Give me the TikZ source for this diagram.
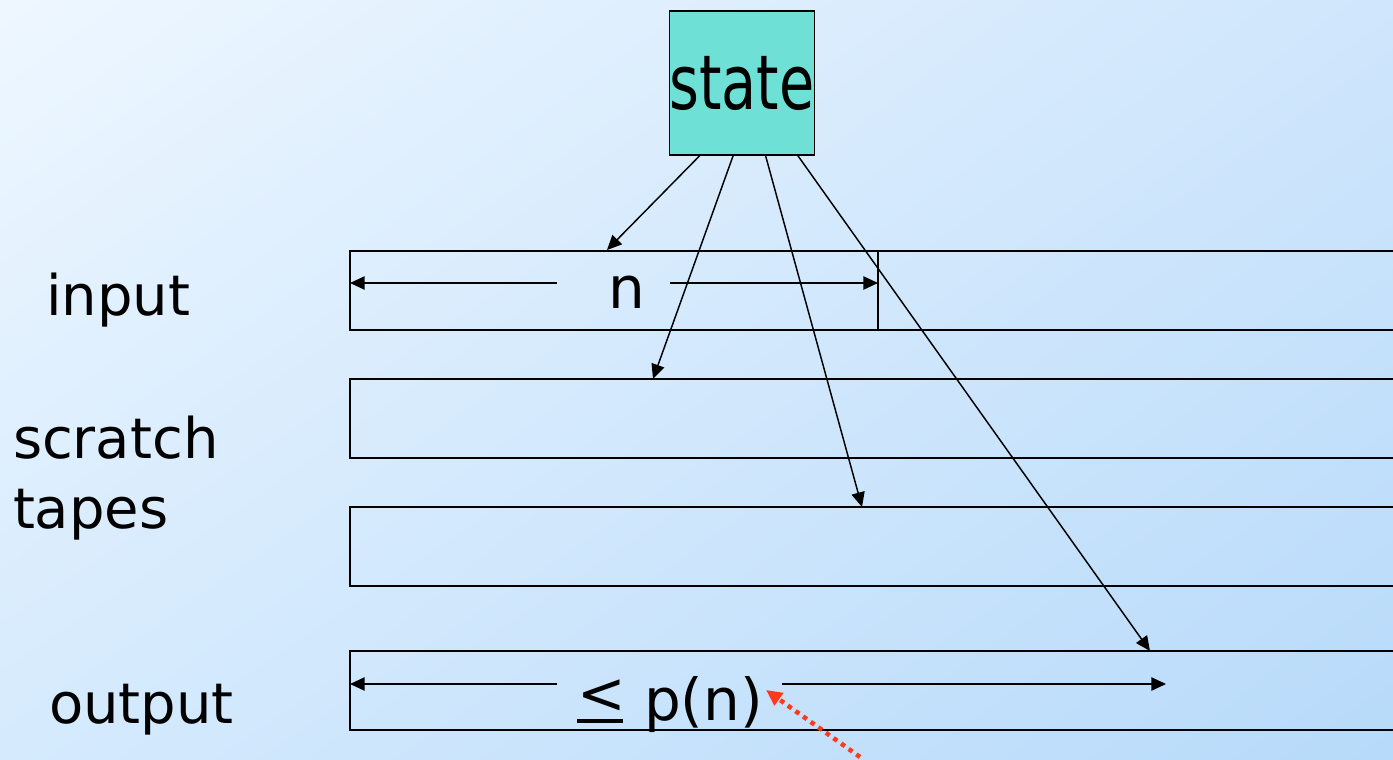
\documentclass[tikz,border=0pt]{standalone}
\usepackage{fontspec}
\setmainfont{DejaVu Sans}
\usetikzlibrary{arrows.meta,calc,shadings}
\definecolor{bgTL}{HTML}{EEF7FF}
\definecolor{bgTR}{HTML}{CFE6FC}
\definecolor{bgBL}{HTML}{D5EAFD}
\definecolor{bgBR}{HTML}{B7DAFA}
\definecolor{statefill}{HTML}{6FE0D5}
\definecolor{redarrow}{HTML}{FF3A1C}
\begin{document}
\begin{tikzpicture}[x=0.75pt,y=-0.75pt,
  every node/.style={inner sep=0pt, outer sep=0pt},
  lbl/.style={anchor=base west, font=\fontsize{42}{50}\selectfont},
  dimlbl/.style={anchor=base west, font=\fontsize{43.5}{50}\selectfont},
  tape/.style={draw, line width=1.3pt, minimum width=825pt, minimum height=59.25pt, anchor=north west},
  conn/.style={line width=1.1pt, -{Triangle[length=11pt,width=10pt]}},
  statebox/.style={draw, line width=1.3pt, fill=statefill, minimum width=108pt, minimum height=108pt, font=\fontsize{43}{50}\selectfont}
]
\useasboundingbox (0,0) rectangle (1393,760);
\clip (0,0) rectangle (1393,760);
\shade[upper left=bgTL, upper right=bgTR, lower left=bgBL, lower right=bgBR] (0,0) rectangle (1393,760);

% tapes
\node[tape] (tin) at (350,251) {};
\node[tape] (ts1) at (350,379) {};
\node[tape] (ts2) at (350,507) {};
\node[tape] (tout) at (350,651) {};
\coordinate (divtop) at (878,251);
\coordinate (divbot) at (878,330);
\draw[line width=1.3pt] (divtop) -- (divbot);

% state
\node[statebox] (st) at (742,83) {\raisebox{-1pt}{\scalebox{1}[1.32]{state}}};

% labels
\node[lbl] (linput) at (46,315) {input};
\node[lbl] (lscr) at (13,458) {scratch};
\node[lbl] (ltap) at (13,528) {tapes};
\node[lbl] (lout) at (49,723) {output};

% n dimension
\node[dimlbl] (nlab) at (608,308) {n};
\coordinate (nL) at (557,283);
\coordinate (nLend) at (350,283);
\coordinate (nR) at (670,283);
\coordinate (nRend) at (878,283);
\draw[conn] (nL) -- (nLend);
\draw[conn] (nR) -- (nRend);

% p(n) dimension
\node[dimlbl] (plab) at (577,720) {\rlap{\rule[-2pt]{0.8em}{2.6pt}}\raisebox{0.12em}{<} p(n)};
\coordinate (pL) at (557,684);
\coordinate (pLend) at (350,684);
\coordinate (pR) at (782,684);
\coordinate (pRend) at (1166,684);
\draw[conn] (pL) -- (pLend);
\draw[conn] (pR) -- (pRend);

% heads
\coordinate (h1) at (607,250);
\coordinate (h2) at (653,379);
\coordinate (h3) at (862,507);
\coordinate (h4) at (1150,651);
\draw[conn] ($(st.south west)+(31,0)$) -- (h1);
\draw[conn] ($(st.south west)+(64,0)$) -- (h2);
\draw[conn] ($(st.south west)+(96,0)$) -- (h3);
\draw[conn] ($(st.south west)+(128,0)$) -- (h4);

% red dotted pointer
\coordinate (rs) at (860,757);
\coordinate (re) at (766,690);
\draw[redarrow, line width=3.4pt, dash pattern=on 3.4pt off 3.6pt, -{Triangle[length=12pt,width=11pt]}] (rs) -- (re);
\end{tikzpicture}
\end{document}
